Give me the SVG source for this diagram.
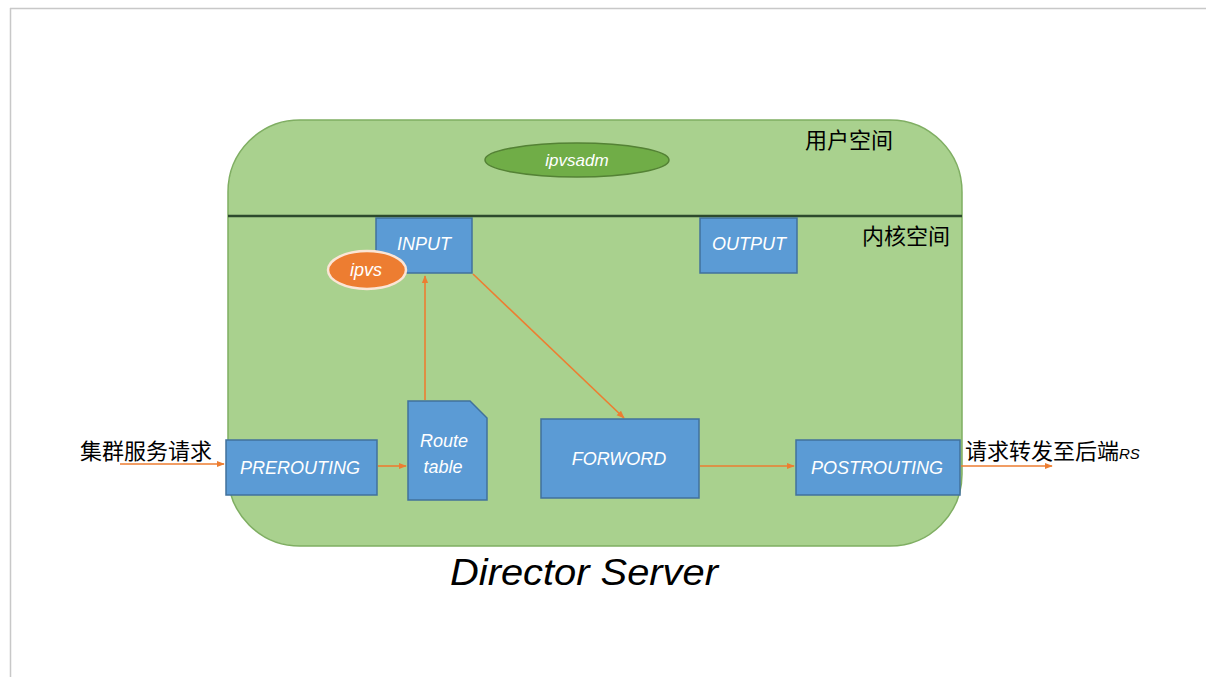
<svg xmlns="http://www.w3.org/2000/svg" width="1206" height="677" viewBox="0 0 1206 677">
<defs>
<style>
.box{fill:#5b9bd5;stroke:#41719c;stroke-width:1.5}
.nt{font-family:"Liberation Sans",Arial,sans-serif;font-style:italic;font-size:18px;fill:#ffffff;text-anchor:middle}
.cn{font-family:"Noto Sans CJK SC","Liberation Sans",sans-serif;font-size:22px;fill:#000000}
.con{stroke:#ed7d31;stroke-width:1.6;fill:none;marker-end:url(#ah)}
</style>
<marker id="ah" viewBox="0 0 10 10" refX="9" refY="5" markerWidth="5" markerHeight="5" orient="auto" markerUnits="strokeWidth">
<path d="M0,1 L10,5 L0,9 z" fill="#ed7d31"/>
</marker>
</defs>
<rect x="0" y="0" width="1206" height="677" fill="#ffffff"/>
<g id="frame">
<line x1="10" y1="8.5" x2="1206" y2="8.5" stroke="#c8c8c8" stroke-width="1.5"/>
<line x1="10.5" y1="8" x2="10.5" y2="677" stroke="#c8c8c8" stroke-width="1.5"/>
</g>
<g id="server">
<rect x="228" y="120" width="734" height="426" rx="72" ry="72" fill="#a9d18e" stroke="#7fae62" stroke-width="1.5"/>
<line x1="228" y1="216" x2="962" y2="216" stroke="#2d4a2d" stroke-width="2.5"/>
<text x="450" y="585" font-family="Liberation Sans,Arial,sans-serif" font-style="italic" font-size="37" textLength="268" lengthAdjust="spacingAndGlyphs" fill="#000">Director Server</text>
</g>
<g id="user-space-label"><text class="cn" x="805" y="148">用户空间</text></g>
<g id="kernel-space-label"><text class="cn" x="862" y="244">内核空间</text></g>
<g id="ipvsadm">
<ellipse cx="577" cy="160" rx="92" ry="17" fill="#70ad47" stroke="#548235" stroke-width="1.5"/>
<text class="nt" x="577" y="166" style="font-size:17px">ipvsadm</text>
</g>
<g id="connectors">
<line class="con" x1="120" y1="464" x2="224" y2="464"/>
<line class="con" x1="378" y1="466" x2="406" y2="466"/>
<line class="con" x1="425" y1="400" x2="425" y2="276"/>
<line class="con" x1="473" y1="274" x2="624" y2="418"/>
<line class="con" x1="700" y1="466" x2="794" y2="466"/>
<line class="con" x1="961" y1="466" x2="1052" y2="466"/>
</g>
<g id="input">
<rect class="box" x="376" y="218" width="96" height="55"/>
<text class="nt" x="424" y="250">INPUT</text>
</g>
<g id="ipvs">
<ellipse cx="367" cy="270" rx="39" ry="19" fill="#ed7d31" stroke="#fbe5d6" stroke-width="2.5"/>
<text class="nt" x="366" y="276">ipvs</text>
</g>
<g id="output">
<rect class="box" x="700" y="218" width="97" height="55"/>
<text class="nt" x="749" y="250">OUTPUT</text>
</g>
<g id="route-table">
<path class="box" d="M408,401 H470 L487,418 V500 H408 Z"/>
<text class="nt" x="444" y="447">Route</text>
<text class="nt" x="443" y="473">table</text>
</g>
<g id="forword">
<rect class="box" x="541" y="419" width="158" height="79"/>
<text class="nt" x="619" y="465">FORWORD</text>
</g>
<g id="prerouting">
<rect class="box" x="226" y="440" width="151" height="55"/>
<text class="nt" x="300" y="474">PREROUTING</text>
</g>
<g id="postrouting">
<rect class="box" x="796" y="440" width="164" height="55"/>
<text class="nt" x="877" y="474">POSTROUTING</text>
</g>
<g id="in-label"><text class="cn" x="80" y="459">集群服务请求</text></g>
<g id="out-label"><text class="cn" x="965" y="459">请求转发至后端<tspan font-family="Liberation Sans,Arial,sans-serif" font-style="italic" font-size="15">RS</tspan></text></g>
</svg>
